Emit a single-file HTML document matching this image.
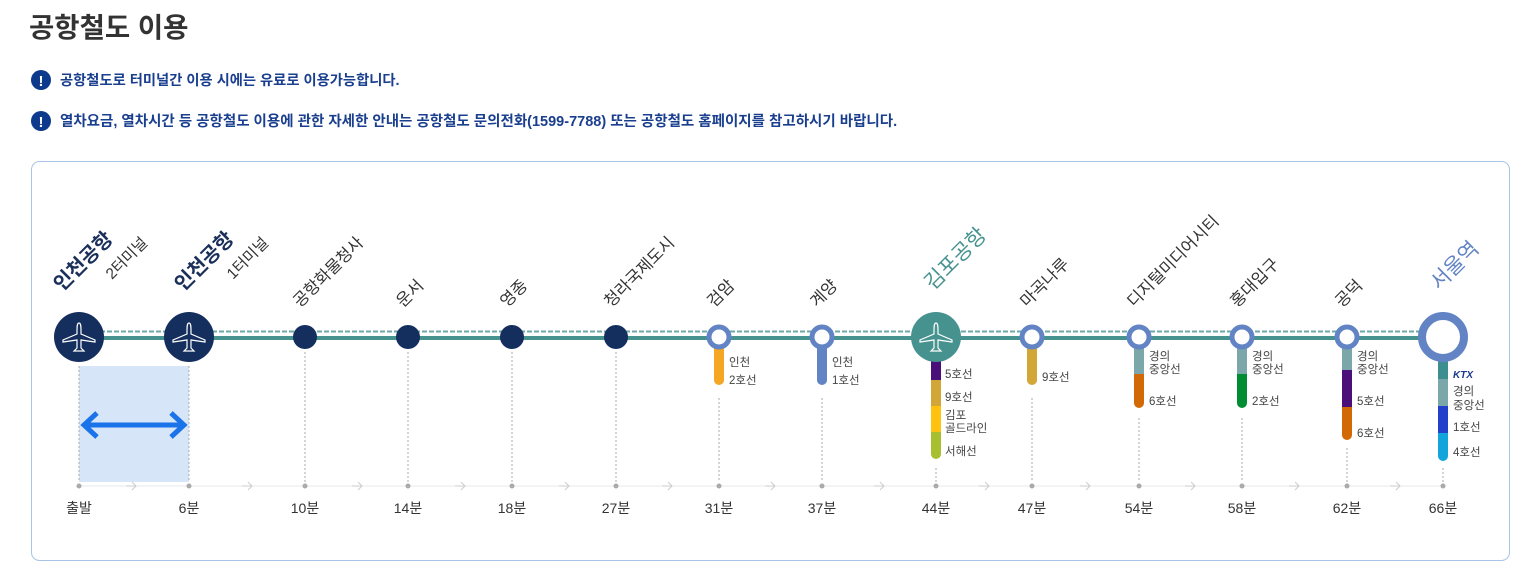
<!DOCTYPE html>
<html><head><meta charset="utf-8"><style>
body{margin:0;background:#fff;width:1534px;height:578px;overflow:hidden}
svg{display:block;font-family:"Liberation Sans","Noto Sans CJK KR",sans-serif}
</style></head><body>
<svg width="1534" height="578" viewBox="0 0 1534 578">
<text x="29" y="37" font-size="27.5" font-weight="bold" fill="#333">공항철도 이용</text>
<circle cx="41" cy="80" r="10" fill="#0d3a8c"/><text x="41" y="86" font-size="15" font-weight="bold" fill="#fff" text-anchor="middle">!</text>
<text x="60" y="85" font-size="14.3" font-weight="bold" fill="#1a3f8f">공항철도로 터미널간 이용 시에는 유료로 이용가능합니다.</text>
<circle cx="41" cy="121" r="10" fill="#0d3a8c"/><text x="41" y="127" font-size="15" font-weight="bold" fill="#fff" text-anchor="middle">!</text>
<text x="60" y="126" font-size="14.5" font-weight="bold" fill="#1a3f8f">열차요금, 열차시간 등 공항철도 이용에 관한 자세한 안내는 공항철도 문의전화(1599-7788) 또는 공항철도 홈페이지를 참고하시기 바랍니다.</text>
<rect x="31.5" y="161.5" width="1478" height="399" rx="8" fill="#fff" stroke="#a8c4e6"/>
<rect x="79" y="366" width="110" height="116" fill="#d6e6f8"/>
<g stroke="#1a73e8" stroke-width="5" fill="none"><line x1="84" y1="425" x2="184" y2="425"/><polyline points="97,413 84,425 97,437"/><polyline points="171,413 184,425 171,437"/></g>
<line x1="79" y1="486" x2="1443" y2="486" stroke="#e8e8e8"/>
<g stroke="#aaa" stroke-dasharray="2,2">
<line x1="79" y1="366" x2="79" y2="482"/><line x1="189" y1="366" x2="189" y2="482"/>
<line x1="305" y1="352" x2="305" y2="482"/><line x1="408" y1="352" x2="408" y2="482"/><line x1="512" y1="352" x2="512" y2="482"/><line x1="616" y1="352" x2="616" y2="482"/>
<line x1="719" y1="398" x2="719" y2="482"/><line x1="822" y1="398" x2="822" y2="482"/><line x1="936" y1="468" x2="936" y2="482"/><line x1="1032" y1="398" x2="1032" y2="482"/>
<line x1="1139" y1="418" x2="1139" y2="482"/><line x1="1242" y1="418" x2="1242" y2="482"/><line x1="1347" y1="448" x2="1347" y2="482"/><line x1="1443" y1="468" x2="1443" y2="482"/>
</g>
<g fill="#aaa"><circle cx="79" cy="486" r="2.5"/><circle cx="189" cy="486" r="2.5"/><circle cx="305" cy="486" r="2.5"/><circle cx="408" cy="486" r="2.5"/><circle cx="512" cy="486" r="2.5"/><circle cx="616" cy="486" r="2.5"/><circle cx="719" cy="486" r="2.5"/><circle cx="822" cy="486" r="2.5"/><circle cx="936" cy="486" r="2.5"/><circle cx="1032" cy="486" r="2.5"/><circle cx="1139" cy="486" r="2.5"/><circle cx="1242" cy="486" r="2.5"/><circle cx="1347" cy="486" r="2.5"/><circle cx="1443" cy="486" r="2.5"/></g>
<defs><g id="ar" fill="none" stroke="#ccc" stroke-width="1"><line x1="-5" y1="0" x2="5" y2="0"/><polyline points="1,-4 5,0 1,4"/></g></defs>
<use href="#ar" x="131" y="486"/><use href="#ar" x="247" y="486"/><use href="#ar" x="357" y="486"/><use href="#ar" x="460" y="486"/><use href="#ar" x="564" y="486"/><use href="#ar" x="667" y="486"/><use href="#ar" x="770" y="486"/><use href="#ar" x="879" y="486"/><use href="#ar" x="984" y="486"/><use href="#ar" x="1085" y="486"/><use href="#ar" x="1190" y="486"/><use href="#ar" x="1294" y="486"/><use href="#ar" x="1395" y="486"/>
<g fill="#333" font-size="14" text-anchor="middle"><text x="79" y="513">출발</text><text x="189" y="513">6분</text><text x="305" y="513">10분</text><text x="408" y="513">14분</text><text x="512" y="513">18분</text><text x="616" y="513">27분</text><text x="719" y="513">31분</text><text x="822" y="513">37분</text><text x="936" y="513">44분</text><text x="1032" y="513">47분</text><text x="1139" y="513">54분</text><text x="1242" y="513">58분</text><text x="1347" y="513">62분</text><text x="1443" y="513">66분</text></g>
<line x1="79" y1="338" x2="1443" y2="338" stroke="#45928f" stroke-width="4"/>
<line x1="79" y1="331.5" x2="1443" y2="331.5" stroke="#6ba8a6" stroke-width="2" stroke-dasharray="5,2"/>
<g stroke-width="10" stroke-linecap="round">
<line x1="719" y1="345" x2="719" y2="380" stroke="#f5a623"/>
<line x1="822" y1="345" x2="822" y2="380" stroke="#6384c4"/>
<line x1="1032" y1="345" x2="1032" y2="380" stroke="#d2a637"/>
<line x1="1139" y1="395" x2="1139" y2="403" stroke="#d16906"/>
<line x1="1242" y1="395" x2="1242" y2="403" stroke="#008c32"/>
<line x1="1347" y1="425" x2="1347" y2="435" stroke="#d16906"/>
<line x1="936" y1="440" x2="936" y2="454" stroke="#a8c030"/>
<line x1="1443" y1="440" x2="1443" y2="456" stroke="#13a4dc"/>
</g>
<rect x="1134" y="345" width="10" height="29" fill="#7ba7ab"/><rect x="1134" y="374" width="10" height="25" fill="#d16906"/>
<rect x="1237" y="345" width="10" height="29" fill="#7ba7ab"/><rect x="1237" y="374" width="10" height="25" fill="#008c32"/>
<rect x="1342" y="345" width="10" height="25" fill="#7ba7ab"/><rect x="1342" y="370" width="10" height="37" fill="#4b0f7a"/><rect x="1342" y="407" width="10" height="22" fill="#d16906"/>
<rect x="931" y="355" width="10" height="25" fill="#4b0f7a"/><rect x="931" y="380" width="10" height="26" fill="#d2a637"/><rect x="931" y="406" width="10" height="26" fill="#ffc20e"/><rect x="931" y="432" width="10" height="14" fill="#a8c030"/>
<rect x="1438" y="355" width="10" height="24" fill="#3c8e90"/><rect x="1438" y="379" width="10" height="27" fill="#7ba7ab"/><rect x="1438" y="406" width="10" height="27" fill="#2340cc"/><rect x="1438" y="433" width="10" height="15" fill="#13a4dc"/>
<g fill="#444" font-size="11.5">
<text x="729" y="366">인천</text><text x="729" y="384">2호선</text>
<text x="832" y="366">인천</text><text x="832" y="384">1호선</text>
<text x="945" y="378">5호선</text><text x="945" y="401">9호선</text><text x="945" y="419">김포</text><text x="945" y="432">골드라인</text><text x="945" y="455">서해선</text>
<text x="1042" y="381">9호선</text>
<text x="1149" y="360">경의</text><text x="1149" y="373">중앙선</text><text x="1149" y="405">6호선</text>
<text x="1252" y="360">경의</text><text x="1252" y="373">중앙선</text><text x="1252" y="405">2호선</text>
<text x="1357" y="360">경의</text><text x="1357" y="373">중앙선</text><text x="1357" y="405">5호선</text><text x="1357" y="437">6호선</text>
<text x="1453" y="395">경의</text><text x="1453" y="409">중앙선</text><text x="1453" y="431">1호선</text><text x="1453" y="456">4호선</text>
</g>
<text x="1453" y="378" font-size="10" font-weight="bold" font-style="italic" fill="#1b3a8c">KTX</text>
<g fill="#142e5e"><circle cx="79" cy="337" r="25"/><circle cx="189" cy="337" r="25"/><circle cx="305" cy="337" r="12"/><circle cx="408" cy="337" r="12"/><circle cx="512" cy="337" r="12"/><circle cx="616" cy="337" r="12"/></g>
<circle cx="936" cy="337" r="25" fill="#45928f"/>
<g fill="#fff" stroke="#6384c4" stroke-width="5"><circle cx="719" cy="337" r="10"/><circle cx="822" cy="337" r="10"/><circle cx="1032" cy="337" r="10"/><circle cx="1139" cy="337" r="10"/><circle cx="1242" cy="337" r="10"/><circle cx="1347" cy="337" r="10"/></g>
<circle cx="1443" cy="337" r="21" fill="#fff" stroke="#6384c4" stroke-width="8"/>
<defs><g id="pl" fill="none" stroke="#fff" stroke-width="1.2"><path d="M0,-14 C2,-14 2,-10 2,-6 L2,-3 L16,3 L16,5 L2,3 L2,11 L5,14 L-5,14 L-2,11 L-2,3 L-16,5 L-16,3 L-2,-3 L-2,-6 C-2,-10 -2,-14 0,-14Z"/></g></defs>
<use href="#pl" x="79" y="337"/><use href="#pl" x="189" y="337"/><use href="#pl" x="936" y="337"/>
<g font-size="16.5" fill="#333">
<text transform="translate(62,292) rotate(-45)" font-size="20" font-weight="bold" fill="#1a2f5a">인천공항</text>
<text transform="translate(112,280) rotate(-45)" font-size="15.5">2터미널</text>
<text transform="translate(183,292) rotate(-45)" font-size="20" font-weight="bold" fill="#1a2f5a">인천공항</text>
<text transform="translate(233,280) rotate(-45)" font-size="15.5">1터미널</text>
<text transform="translate(300,308) rotate(-45)">공항화물청사</text>
<text transform="translate(403,308) rotate(-45)">운서</text>
<text transform="translate(507,308) rotate(-45)">영종</text>
<text transform="translate(611,308) rotate(-45)">청라국제도시</text>
<text transform="translate(714,308) rotate(-45)">검암</text>
<text transform="translate(817,308) rotate(-45)">계양</text>
<text transform="translate(933,291) rotate(-45)" font-size="21" fill="#45928f">김포공항</text>
<text transform="translate(1027,308) rotate(-45)">마곡나루</text>
<text transform="translate(1134,308) rotate(-45)">디지털미디어시티</text>
<text transform="translate(1237,308) rotate(-45)">홍대입구</text>
<text transform="translate(1342,308) rotate(-45)">공덕</text>
<text transform="translate(1439,291) rotate(-45)" font-size="21" fill="#6384c4">서울역</text>
</g>
</svg>
</body></html>
